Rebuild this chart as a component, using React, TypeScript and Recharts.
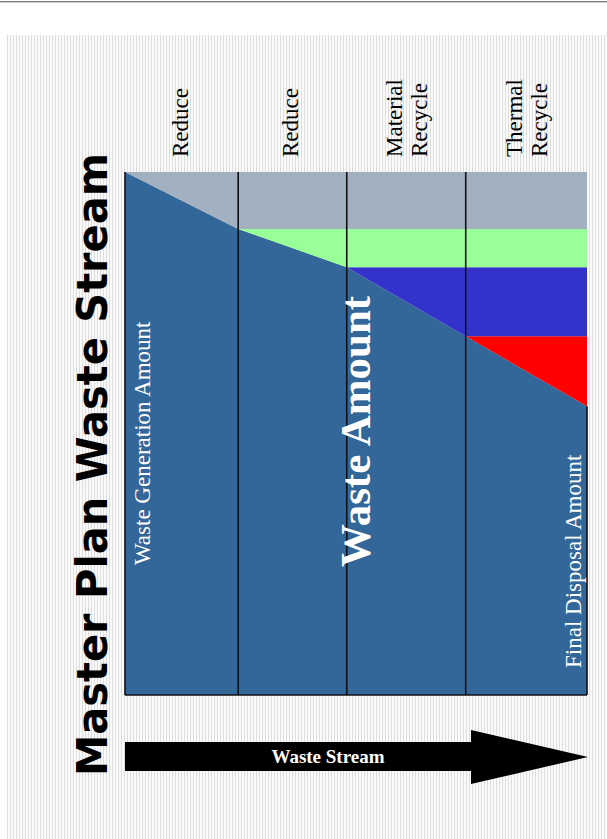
import { Area, AreaChart, ReferenceLine, XAxis, YAxis } from "recharts";

// stage positions along the stream (reduce -> reduce -> material -> thermal)
const stages = [0, 0.98, 1.92, 2.95, 4];
const stageLabels = [["Reduce"], ["Reduce"], ["Material", "Recycle"], ["Thermal", "Recycle"]];

// share of the generated waste (%), stacked bottom -> top
const finalDisposal = [100, 89.1, 81.8, 68.6, 55.2];
const thermalRecycle = [0, 0, 0, 0, 13.4];
const materialRecycle = [0, 0, 0, 13.2, 13.2];
const secondReduce = [0, 0, 7.3, 7.3, 7.3];
const firstReduce = [0, 10.9, 10.9, 10.9, 10.9];

const W = 607;
const H = 839;
const SERIF = "'Liberation Serif', 'Times New Roman', serif";

const data = stages.map((s, i) => ({
  stage: s,
  finalDisposal: finalDisposal[i],
  thermal: thermalRecycle[i],
  material: materialRecycle[i],
  reduce2: secondReduce[i],
  reduce1: firstReduce[i],
}));

// column centres for the stage labels
const colCenters = stages.slice(1).map((s, i) => (s + stages[i]) / 2);

// eslint-disable-next-line @typescript-eslint/no-explicit-any
function StageTick(props: any) {
  const { x, y, index } = props;
  const lines = stageLabels[index] ?? [];
  const first = lines.length === 1 ? 6 : -4.5;
  return (
    <g>
      {lines.map((t, i) => (
        <text
          key={t + i}
          transform={`translate(${x + first + i * 25},${y}) rotate(-90)`}
          fontFamily={SERIF}
          fontSize={23}
          fill="#000"
        >
          {t}
        </text>
      ))}
    </g>
  );
}

export default function App() {
  const lineStyle = { stroke: "#111", strokeWidth: 1.6 };
  return (
    <div style={{ position: "absolute", left: 0, top: 0, width: W, height: H, background: "#fff", overflow: "hidden" }}>
      {/* page background */}
      <div style={{ position: "absolute", left: 0, top: 1, width: W, height: 1, background: "#7a7a7a" }} />
      <div style={{ position: "absolute", left: 0, top: 2, width: W, height: 1, background: "#d0d0d0" }} />
      <div
        style={{
          position: "absolute",
          left: 7,
          top: 35,
          right: 0,
          bottom: 0,
          background: "repeating-linear-gradient(90deg, #dedede 0px, #dedede 1px, #fafafa 1px, #fafafa 3px)",
        }}
      />

      <AreaChart
        width={W}
        height={H}
        data={data}
        margin={{ top: 162, right: 20, bottom: 144, left: 125 }}
        style={{ position: "absolute", left: 0, top: 0 }}
      >
        <XAxis
          dataKey="stage"
          type="number"
          domain={[0, 4]}
          orientation="top"
          height={10}
          ticks={colCenters}
          interval={0}
          tick={<StageTick />}
          tickSize={0}
          tickMargin={15}
          axisLine={false}
          tickLine={false}
        />
        <YAxis hide domain={[0, 100]} />
        <Area type="linear" dataKey="finalDisposal" stackId="1" stroke="none" fill="#336699" fillOpacity={1} isAnimationActive={false} dot={false} activeDot={false} />
        <Area type="linear" dataKey="thermal" stackId="1" stroke="none" fill="#ff0000" fillOpacity={1} isAnimationActive={false} dot={false} activeDot={false} />
        <Area type="linear" dataKey="material" stackId="1" stroke="none" fill="#3333cc" fillOpacity={1} isAnimationActive={false} dot={false} activeDot={false} />
        <Area type="linear" dataKey="reduce2" stackId="1" stroke="none" fill="#99ff99" fillOpacity={1} isAnimationActive={false} dot={false} activeDot={false} />
        <Area type="linear" dataKey="reduce1" stackId="1" stroke="none" fill="#a2b0bf" fillOpacity={1} isAnimationActive={false} dot={false} activeDot={false} />
        {stages.slice(1, 4).map((s) => (
          <ReferenceLine key={s} x={s} {...lineStyle} />
        ))}
        <ReferenceLine x={stages[0]} {...lineStyle} />
        <ReferenceLine y={0} {...lineStyle} />
        <ReferenceLine
          segment={[
            { x: stages[4], y: 0 },
            { x: stages[4], y: finalDisposal[4] },
          ]}
          {...lineStyle}
        />
      </AreaChart>

      <svg width={W} height={H} style={{ position: "absolute", left: 0, top: 0, pointerEvents: "none" }}>
        <text
          transform="translate(107,776) rotate(-90)"
          fontFamily="'DejaVu Sans', Verdana, sans-serif"
          fontWeight="bold"
          fontSize={43}
          textLength={623}
          lengthAdjust="spacingAndGlyphs"
          fill="#000"
        >
          Master Plan Waste Stream
        </text>
        <text transform="translate(150,565) rotate(-90)" fontFamily={SERIF} fontSize={23} fill="#fff">
          Waste Generation Amount
        </text>
        <text transform="translate(370,567) rotate(-90)" fontFamily={SERIF} fontWeight="bold" fontSize={43} fill="#fff">
          Waste Amount
        </text>
        <text transform="translate(581,668) rotate(-90)" fontFamily={SERIF} fontSize={23} fill="#fff">
          Final Disposal Amount
        </text>

        {/* stream arrow */}
        <polygon points="125,742 471,742 471,730 588,757 471,784 471,771 125,771" fill="#000" />
        <text x={328} y={763} textAnchor="middle" fontFamily={SERIF} fontWeight="bold" fontSize={19} fill="#fff">
          Waste Stream
        </text>
      </svg>
    </div>
  );
}
